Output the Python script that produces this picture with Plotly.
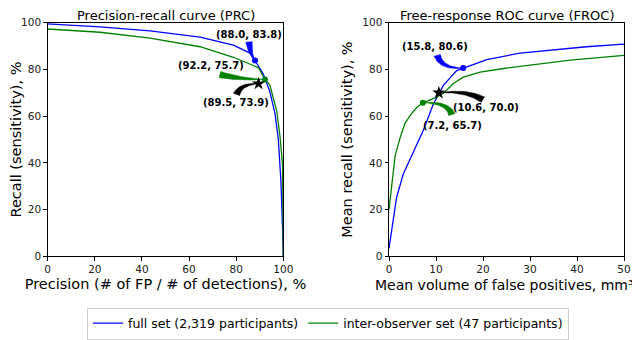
import numpy as np
import plotly.graph_objects as go

# ---- data ----
prc_full_precision = [0, 22.2, 43.4, 64.7, 78.8, 85.9, 88.0, 91.5, 94.3, 96.5, 97.9, 99.0, 99.7, 100]
prc_full_recall = [99.5, 98.2, 96.5, 93.8, 90.4, 87.0, 83.8, 78.0, 70.5, 61.0, 50.0, 32.0, 11.7, 0]
prc_obs_precision = [0, 22.2, 43.4, 64.7, 78.8, 89.4, 91.5, 92.2, 94.3, 97.2, 98.6, 99.7, 100]
prc_obs_recall = [97.3, 95.9, 93.4, 89.7, 85.2, 80.8, 77.0, 75.7, 73.3, 62.3, 51.4, 39.0, 0]

froc_full_fp = [0, 0.57, 1.6, 3.0, 5.2, 7.3, 9.4, 10.6, 11.6, 14.4, 15.8, 20.8, 27.9, 35.0, 42.0, 50]
froc_full_recall = [3.4, 11.6, 25.0, 35.0, 44.5, 54.0, 65.0, 69.5, 73.3, 79.5, 80.6, 84.2, 87.0, 88.4, 89.7, 90.8]
froc_obs_fp = [0, 0.57, 1.3, 2.4, 3.4, 4.5, 5.9, 7.2, 8.0, 9.8, 11.6, 13.7, 15.8, 19.4, 24.4, 31.5, 38.6, 50]
froc_obs_recall = [20.0, 30.8, 43.0, 51.0, 56.9, 60.3, 63.7, 65.7, 66.4, 67.8, 69.8, 74.0, 76.7, 78.8, 80.4, 82.2, 84.0, 86.0]

# operating points: (x, y) for full set, inter-observer set, and the human reference (star)
prc_points = {"full": (88.0, 83.8), "obs": (92.2, 75.7), "star": (89.5, 73.9)}
froc_points = {"full": (15.8, 80.6), "obs": (7.2, 65.7), "star": (10.6, 70.0)}

series_names = ["full set (2,319 participants)", "inter-observer set (47 participants)"]

BLUE = "#0000ff"
GREEN = "#008000"
FONT = "DejaVu Sans"
OFF = 8  # the page body adds an 8px margin, so the figure is drawn 8px in
W, H = 640 - OFF, 340 - OFF

# plot areas in window pixels (left, right, top, bottom)
AREAS = {
    "prc": dict(x0=47.7, x1=283.3, y0=23.0, y1=261.7, xmax=100),
    "froc": dict(x0=389.0, x1=624.0, y0=23.0, y1=261.7, xmax=50),
}


def xdom(area):
    a = AREAS[area]
    return [(a["x0"] - OFF) / W, (a["x1"] - OFF) / W]


def ydom(area):
    a = AREAS[area]
    return [1 - (a["y1"] - OFF) / H, 1 - (a["y0"] - OFF) / H]


def px_to_data(area, px, py):
    a = AREAS[area]
    x = (np.asarray(px) - a["x0"]) / (a["x1"] - a["x0"]) * a["xmax"]
    y = (a["y1"] - np.asarray(py)) / (a["y1"] - a["y0"]) * 100
    return x, y


def data_to_px(area, x, y):
    a = AREAS[area]
    px = a["x0"] + x / a["xmax"] * (a["x1"] - a["x0"])
    py = a["y1"] - y / 100 * (a["y1"] - a["y0"])
    return px, py


def add_wedge(fig, area, point, tail, ctrl, color, width=6, xref="x", yref="y"):
    """Curved tapering arrow (matplotlib 'wedge' look) from a pixel offset to a data point."""
    hx, hy = data_to_px(area, *point)
    p0 = np.array([hx + tail[0], hy + tail[1]])
    c = np.array([hx + ctrl[0], hy + ctrl[1]])
    p1 = np.array([hx, hy])
    t = np.linspace(0, 1, 40)[:, None]
    b = (1 - t) ** 2 * p0 + 2 * (1 - t) * t * c + t ** 2 * p1
    d = 2 * (1 - t) * (c - p0) + 2 * t * (p1 - c)
    d = d / np.linalg.norm(d, axis=1, keepdims=True)
    n = np.column_stack([-d[:, 1], d[:, 0]])
    hw = (width / 2) * (1 - t)
    left = b + n * hw
    right = b - n * hw
    poly = np.vstack([left, right[::-1], left[:1]])
    x, y = px_to_data(area, poly[:, 0], poly[:, 1])
    fig.add_trace(go.Scatter(
        x=x, y=y, mode="lines", fill="toself", fillcolor=color,
        line=dict(width=0.5, color=color), hoverinfo="skip", showlegend=False,
        xaxis=xref, yaxis=yref,
    ))


def add_label(fig, area, point, offset, xref, yref):
    hx, hy = data_to_px(area, *point)
    x, y = px_to_data(area, hx + offset[0], hy + offset[1])
    fig.add_annotation(
        x=float(x), y=float(y), xref=xref, yref=yref, showarrow=False,
        text=f"<b>({point[0]:.1f}, {point[1]:.1f})</b>",
        font=dict(family=FONT, size=10, color="black"),
        xanchor="center", yanchor="middle",
    )


fig = go.Figure()

# PRC curves
fig.add_trace(go.Scatter(x=prc_full_precision, y=prc_full_recall, mode="lines",
                         line=dict(color=BLUE, width=1.3), name=series_names[0],
                         xaxis="x", yaxis="y"))
fig.add_trace(go.Scatter(x=prc_obs_precision, y=prc_obs_recall, mode="lines",
                         line=dict(color=GREEN, width=1.3), name=series_names[1],
                         xaxis="x", yaxis="y"))
# FROC curves
fig.add_trace(go.Scatter(x=froc_full_fp, y=froc_full_recall, mode="lines",
                         line=dict(color=BLUE, width=1.3), showlegend=False,
                         xaxis="x2", yaxis="y2"))
fig.add_trace(go.Scatter(x=froc_obs_fp, y=froc_obs_recall, mode="lines",
                         line=dict(color=GREEN, width=1.3), showlegend=False,
                         xaxis="x2", yaxis="y2"))

# arrows: (tail offset, control offset) in pixels relative to the point
arrow_style = {
    "prc": {
        "full": ((-6, -19), (-5, -6), BLUE),
        "obs": ((-45, -5), (-25, 0), GREEN),
        "star": ((-22, 11), (-18, 0), "black"),
    },
    "froc": {
        "full": ((-26, -13), (-22, 1), BLUE),
        "obs": ((29, 12), (25, -1), GREEN),
        "star": ((44, 7), (27, -3), "black"),
    },
}
label_offset = {
    "prc": {"full": (-6, -27), "obs": (-54, -14.5), "star": (-22.5, 19)},
    "froc": {"full": (-28, -22), "obs": (30, 23), "star": (47.5, 15)},
}

for area, pts, xr, yr in [("prc", prc_points, "x", "y"), ("froc", froc_points, "x2", "y2")]:
    for key in ["full", "obs", "star"]:
        tail, ctrl, col = arrow_style[area][key]
        add_wedge(fig, area, pts[key], tail, ctrl, col, width=6.5, xref=xr, yref=yr)
    for key, col in [("full", BLUE), ("obs", GREEN)]:
        fig.add_trace(go.Scatter(x=[pts[key][0]], y=[pts[key][1]], mode="markers",
                                 marker=dict(color=col, size=6), showlegend=False,
                                 hoverinfo="skip", xaxis=xr, yaxis=yr))
    fig.add_trace(go.Scatter(x=[pts["star"][0]], y=[pts["star"][1]], mode="markers",
                             marker=dict(color="black", size=10, symbol="star"),
                             showlegend=False, hoverinfo="skip", xaxis=xr, yaxis=yr))
    for key in ["full", "obs", "star"]:
        add_label(fig, area, pts[key], label_offset[area][key], xr, yr)

axis_common = dict(
    showline=True, linecolor="black", linewidth=1, mirror=True,
    ticks="outside", ticklen=3.5, tickcolor="black", tickwidth=1,
    showgrid=False, zeroline=False, automargin=False,
    tickfont=dict(family=FONT, size=10.5, color="#222"),
    title_font=dict(family=FONT, size=14.5, color="black"),
)

fig.update_layout(
    width=W, height=H,
    margin=dict(l=0, r=0, t=0, b=0),
    plot_bgcolor="white", paper_bgcolor="white",
    font=dict(family=FONT, color="black"),
    xaxis=dict(domain=xdom("prc"), range=[0, 100], dtick=20,
               title=dict(text="Precision (# of FP / # of detections), %", standoff=4),
               **axis_common),
    yaxis=dict(domain=ydom("prc"), range=[0, 100], dtick=20,
               title=dict(text="Recall (sensitivity), %", standoff=6),
               **axis_common),
    xaxis2=dict(domain=xdom("froc"), range=[0, 50], dtick=10, anchor="y2",
                **axis_common),
    yaxis2=dict(domain=ydom("froc"), range=[0, 100], dtick=20, anchor="x2",
                title=dict(text="Mean recall (sensitivity), %", standoff=6),
                **axis_common),
    legend=dict(
        orientation="h", x=(328 - OFF) / W, xanchor="center",
        y=1 - (314 - OFF) / H, yanchor="top",
        bordercolor="#d0d0d0", borderwidth=1, bgcolor="white",
        font=dict(family=FONT, size=12.5, color="black"),
        itemwidth=30,
    ),
    showlegend=True,
)

# right x-axis title as an annotation so it can sit flush with the right edge like the original
fig.add_annotation(x=(636 - OFF) / W, y=1 - (291 - OFF) / H, xref="paper", yref="paper",
                   text="Mean volume of false positives, mm³", showarrow=False,
                   xanchor="right", yanchor="middle",
                   font=dict(family=FONT, size=14, color="black"))

for text, area in [("Precision-recall curve (PRC)", "prc"),
                   ("Free-response ROC curve (FROC)", "froc")]:
    fig.add_annotation(x=sum(xdom(area)) / 2, y=1 - (15.5 - OFF) / H, xref="paper", yref="paper",
                       text=text, showarrow=False, xanchor="center", yanchor="middle",
                       font=dict(family=FONT, size=13, color="black"))

fig.write_html("out.html")
